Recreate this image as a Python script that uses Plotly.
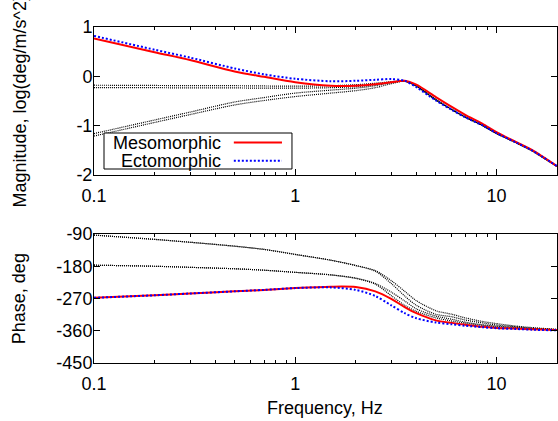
import math
import plotly.graph_objects as go

# ---------------- data ----------------
freq_hz = [0.1, 0.2, 0.3, 0.5, 0.7, 1.0, 1.5, 2.0, 2.5, 3.0, 3.5, 4.0,
           5.0, 6.0, 7.0, 8.5, 10.0, 12.5, 15.0, 20.0]

# magnitude, log(deg/m/s^2)
meso_mag = [0.77, 0.49, 0.33, 0.10, -0.01, -0.12, -0.19, -0.19, -0.16, -0.12, -0.09, -0.17,
            -0.42, -0.62, -0.78, -0.96, -1.13, -1.33, -1.49, -1.82]
ecto_mag = [0.82, 0.54, 0.38, 0.16, 0.04, -0.05, -0.10, -0.09, -0.07, -0.055, -0.09, -0.22,
            -0.49, -0.68, -0.83, -0.99, -1.15, -1.34, -1.50, -1.82]
model1_mag = [-0.18, -0.185, -0.19, -0.19, -0.195, -0.20, -0.19, -0.17, -0.14, -0.11, -0.09, -0.19,
              -0.47, -0.67, -0.82, -0.99, -1.15, -1.34, -1.50, -1.82]
model2_mag = [-0.23, -0.23, -0.235, -0.235, -0.24, -0.24, -0.23, -0.21, -0.17, -0.12, -0.10, -0.20,
              -0.48, -0.67, -0.83, -0.99, -1.16, -1.34, -1.51, -1.83]
model3_mag = [-1.16, -0.885, -0.725, -0.52, -0.43, -0.34, -0.28, -0.24, -0.19, -0.13, -0.10, -0.19,
              -0.47, -0.67, -0.82, -0.99, -1.15, -1.34, -1.50, -1.82]
model4_mag = [-1.21, -0.935, -0.775, -0.58, -0.49, -0.41, -0.34, -0.29, -0.23, -0.15, -0.10, -0.20,
              -0.48, -0.68, -0.83, -1.00, -1.16, -1.35, -1.51, -1.83]

# phase, deg
meso_phase = [-268, -261, -256, -250, -246, -241, -237, -238, -250, -271, -294, -311,
              -331, -338, -343, -349, -352, -354, -356, -358]
ecto_phase = [-268, -261, -256, -250, -246, -241, -239, -246, -263, -289, -311, -325,
              -337, -342, -346, -350, -353, -355, -357, -359]
model1_phase = [-177, -180, -183, -187, -191, -197, -204, -213, -228, -252, -277, -299,
                -319, -328, -336, -343, -347, -351, -354, -357]
model2_phase = [-177, -180, -183, -187, -191, -197, -204, -214, -230, -262, -289, -306,
                -324, -333, -339, -345, -349, -353, -355, -358]
model3_phase = [-93, -105, -113, -124, -133, -147, -163, -178, -192, -220, -250, -276,
                -304, -314, -324, -334, -340, -347, -351, -356]
model4_phase = [-93, -105, -113, -124, -133, -147, -163, -178, -194, -228, -263, -289,
                -314, -321, -330, -338, -344, -349, -353, -357]

series_names = ["Mesomorphic", "Ectomorphic"]
mag_ticks = [1, 0, -1, -2]
phase_ticks = [-90, -180, -270, -360, -450]
freq_ticks = [0.1, 1, 10]
freq_range = [0.1, 20]

# ---------------- figure ----------------
FONT = "Liberation Sans, Arial, Helvetica, sans-serif"
FS = 18
fig = go.Figure()

black_line = dict(color="black", width=1.2, dash="1px,1px")
red_line = dict(color="#ff0000", width=2)
blue_line = dict(color="#0000ff", width=2, dash="2px,2px")

models_mag = [model1_mag, model2_mag, model3_mag, model4_mag]
models_phase = [model1_phase, model2_phase, model3_phase, model4_phase]

for m in models_mag:
    fig.add_trace(go.Scatter(x=freq_hz, y=m, mode="lines", line=dict(black_line, shape="spline", smoothing=0.8),
                             xaxis="x2", yaxis="y2", showlegend=False, hoverinfo="skip"))
for m in models_phase:
    fig.add_trace(go.Scatter(x=freq_hz, y=m, mode="lines", line=dict(black_line, shape="spline", smoothing=0.8),
                             xaxis="x", yaxis="y", showlegend=False, hoverinfo="skip"))

fig.add_trace(go.Scatter(x=freq_hz, y=meso_mag, name=series_names[0], mode="lines",
                         line=dict(red_line, shape="spline", smoothing=0.8), xaxis="x2", yaxis="y2", showlegend=False))
fig.add_trace(go.Scatter(x=freq_hz, y=ecto_mag, name=series_names[1], mode="lines",
                         line=dict(blue_line, shape="spline", smoothing=0.8), xaxis="x2", yaxis="y2", showlegend=False))
fig.add_trace(go.Scatter(x=freq_hz, y=meso_phase, name=series_names[0], mode="lines",
                         line=dict(red_line, shape="spline", smoothing=0.8), xaxis="x", yaxis="y", showlegend=False))
fig.add_trace(go.Scatter(x=freq_hz, y=ecto_phase, name=series_names[1], mode="lines",
                         line=dict(blue_line, shape="spline", smoothing=0.8), xaxis="x", yaxis="y", showlegend=False))

lr = [math.log10(freq_range[0]), math.log10(freq_range[1])]
xcommon = dict(type="log", range=lr, tickmode="array", tickvals=freq_ticks,
               ticktext=[str(v) for v in freq_ticks], ticks="inside", ticklen=6,
               tickcolor="black", showline=True, linecolor="black", linewidth=1,
               mirror="ticks", showgrid=False, zeroline=False, ticklabelstandoff=4,
               tickfont=dict(family=FONT, size=FS, color="black"),
               minor=dict(tickvals=[d * k for d in (0.1, 1, 10) for k in range(2, 10) if d * k <= 20],
                          ticks="inside", ticklen=3, tickcolor="black", showgrid=False))
ycommon = dict(ticks="inside", ticklen=6, tickcolor="black", showline=True, linecolor="black",
               linewidth=1, mirror="ticks", showgrid=False, zeroline=False, ticklabelstandoff=-3,
               tickfont=dict(family=FONT, size=FS, color="black"))

fig.update_layout(
    width=558, height=421,
    margin=dict(l=94, r=1, t=27, b=58),
    paper_bgcolor="white", plot_bgcolor="white",
    font=dict(family=FONT, size=FS, color="black"),
    showlegend=False,
    xaxis=dict(xcommon, anchor="y", domain=[0, 1]),
    yaxis=dict(ycommon, domain=[0, 0.3839], range=[-450, -90], tickvals=phase_ticks,
               ticktext=[str(v) for v in phase_ticks], anchor="x"),
    xaxis2=dict(xcommon, anchor="y2", domain=[0, 1]),
    yaxis2=dict(ycommon, domain=[0.5595, 1], range=[-2, 1], tickvals=mag_ticks,
                ticktext=[str(v) for v in mag_ticks], anchor="x2"),
)

# axis titles
fig.add_annotation(text="Magnitude, log(deg/m/s^2)", xref="paper", yref="paper", x=-0.1605, y=0.78,
                   textangle=-90, showarrow=False, xanchor="center", yanchor="middle",
                   font=dict(family=FONT, size=FS))
fig.add_annotation(text="Phase, deg", xref="paper", yref="paper", x=-0.1605, y=0.192,
                   textangle=-90, showarrow=False, xanchor="center", yanchor="middle",
                   font=dict(family=FONT, size=FS))
fig.add_annotation(text="Frequency, Hz", xref="paper", yref="paper", x=0.4996, y=-0.134,
                   showarrow=False, xanchor="center", yanchor="middle",
                   font=dict(family=FONT, size=FS))

# gnuplot-style key: box, right-aligned text, sample line on the right
fig.add_shape(type="rect", xref="x2 domain", yref="y2 domain", x0=0.0216, x1=0.4276, y0=0.0405, y1=0.2838,
              line=dict(color="black", width=1), fillcolor="white", layer="above")
key_rows = [(series_names[0], red_line, 0.219), (series_names[1], blue_line, 0.0966)]
for name, ln, yy in key_rows:
    fig.add_annotation(text=name, xref="x2 domain", yref="y2 domain", x=0.278, y=yy,
                       showarrow=False, xanchor="right", yanchor="middle", font=dict(family=FONT, size=FS))
    fig.add_shape(type="line", xref="x2 domain", yref="y2 domain", x0=0.302, x1=0.406, y0=yy, y1=yy,
                  line=ln, layer="above")

fig.write_html("out.html", config={"displayModeBar": False},
               post_script="document.body.style.margin='0';document.body.style.overflow='hidden';")
